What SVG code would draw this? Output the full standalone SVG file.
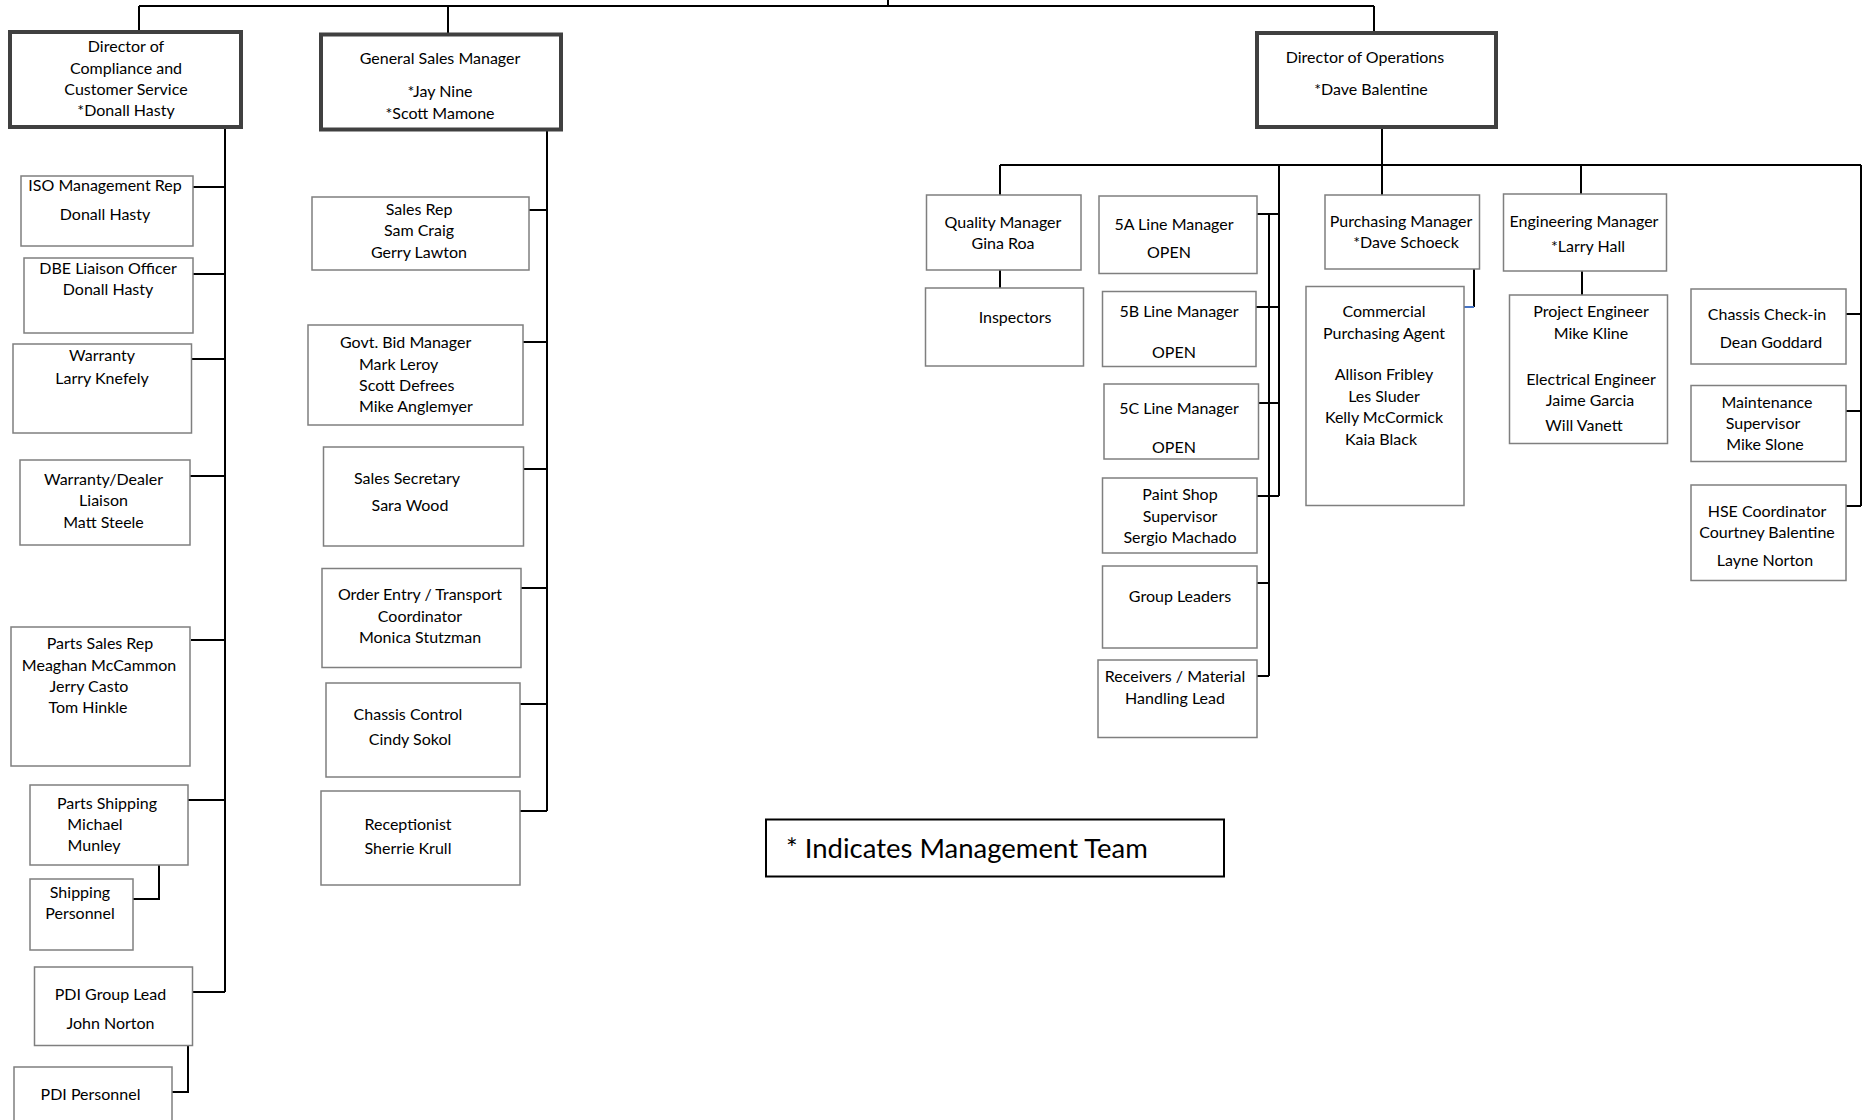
<svg xmlns="http://www.w3.org/2000/svg" width="1865" height="1120" viewBox="0 0 1865 1120">
<style>
.box{fill:#fff;stroke:#7f7f7f;stroke-width:1.5}
.head{fill:#fff;stroke:#404040;stroke-width:4}
.legend{fill:#fff;stroke:#000;stroke-width:2}
text{font-family:Lato,"Liberation Sans",sans-serif;font-size:16px;fill:#000;text-anchor:middle}
.s{text-anchor:start}
.big{font-size:27.5px;text-anchor:start}
.c{stroke:#000;stroke-width:2;fill:none}
.cb{stroke:#4472c4;stroke-width:2;fill:none}
</style>
<rect width="1865" height="1120" fill="#fff"/>
<g id="connectors">
<path class="c" d="M888 0V6M139 6H1374M139 6V32M448 6V34M1374 6V33"/>
<path class="c" d="M225 127V992M193 187H225M193 274H225M191 359H225M190 476H225M191 640H225M188 800H225M193 992H225"/>
<path class="c" d="M159 865V899H133M188 1046V1092H172"/>
<path class="c" d="M547 130V811M529 210H547M523 342H547M523 469H547M521 588H547M520 704H547M520 811H547"/>
<path class="c" d="M1382 127V195M1000 165H1861M1000 165V195M1000 270V288M1581 165V194M1582 271V295M1861 165V506M1846 314H1861M1846 411H1861M1846 506H1861"/>
<path class="c" d="M1279 165V496M1269 214V676M1257 214H1279M1256 307H1279M1258 403H1279M1257 496H1279M1257 583H1269M1257 676H1269"/>
<path class="c" d="M1474 269V307"/>
<path class="cb" d="M1474 307H1464"/>
</g>
<g id="dir-compliance"><rect class="head" x="10" y="32" width="231" height="95"/>
<text x="126" y="52">Director of</text><text x="126" y="73.5">Compliance and</text><text x="126" y="95">Customer Service</text><text x="126" y="116">*Donall Hasty</text></g>
<g id="iso"><rect class="box" x="21" y="176" width="172" height="70"/><text x="105" y="191">ISO Management Rep</text><text x="105" y="219.5">Donall Hasty</text></g>
<g id="dbe"><rect class="box" x="24" y="258" width="169" height="75"/><text x="108" y="274">DBE Liaison Officer</text><text x="108" y="294.5">Donall Hasty</text></g>
<g id="warranty"><rect class="box" x="13" y="344" width="178.5" height="89"/><text x="102" y="361">Warranty</text><text x="102" y="383.5">Larry Knefely</text></g>
<g id="warranty-dealer"><rect class="box" x="20" y="460" width="170" height="85"/><text x="103.5" y="485">Warranty/Dealer</text><text x="103.5" y="506">Liaison</text><text x="103.5" y="527.5">Matt Steele</text></g>
<g id="parts-sales"><rect class="box" x="11" y="627" width="179" height="139"/><text x="100" y="649">Parts Sales Rep</text><text x="99" y="670.5">Meaghan McCammon</text><text x="89" y="692">Jerry Casto</text><text x="88" y="713">Tom Hinkle</text></g>
<g id="parts-shipping"><rect class="box" x="30" y="785" width="158" height="80"/><text x="107" y="808.5">Parts Shipping</text><text x="95" y="830">Michael</text><text x="94" y="851">Munley</text></g>
<g id="shipping-personnel"><rect class="box" x="30" y="879" width="103" height="71"/><text x="80" y="897.5">Shipping</text><text x="80" y="919">Personnel</text></g>
<g id="pdi-lead"><rect class="box" x="34.5" y="967" width="158" height="78.5"/><text x="110.5" y="1000">PDI Group Lead</text><text x="110.5" y="1028.5">John Norton</text></g>
<g id="pdi-personnel"><rect class="box" x="14" y="1067" width="158" height="70"/><text x="90.5" y="1100">PDI Personnel</text></g>
<g id="gsm"><rect class="head" x="321" y="34.5" width="240" height="95"/><text x="440" y="64">General Sales Manager</text><text x="440" y="97">*Jay Nine</text><text x="440" y="118.5">*Scott Mamone</text></g>
<g id="sales-rep"><rect class="box" x="312" y="197" width="217" height="73"/><text x="419" y="215">Sales Rep</text><text x="419" y="236">Sam Craig</text><text x="419" y="257.5">Gerry Lawton</text></g>
<g id="govt-bid"><rect class="box" x="308" y="325" width="215" height="100"/><text class="s" x="340" y="348">Govt. Bid Manager</text><text class="s" x="359" y="369.5">Mark Leroy</text><text class="s" x="359" y="391">Scott Defrees</text><text class="s" x="359" y="412">Mike Anglemyer</text></g>
<g id="sales-secretary"><rect class="box" x="323.5" y="447" width="200" height="99"/><text x="407" y="483.5">Sales Secretary</text><text x="410" y="511">Sara Wood</text></g>
<g id="order-entry"><rect class="box" x="322" y="568.5" width="199" height="99"/><text x="420" y="600">Order Entry / Transport</text><text x="420" y="621.5">Coordinator</text><text x="420" y="643">Monica Stutzman</text></g>
<g id="chassis-control"><rect class="box" x="326" y="683" width="194" height="94"/><text x="408" y="720">Chassis Control</text><text x="410" y="745">Cindy Sokol</text></g>
<g id="receptionist"><rect class="box" x="321" y="791" width="199" height="94"/><text x="408" y="829.5">Receptionist</text><text x="408" y="853.5">Sherrie Krull</text></g>
<g id="dir-operations"><rect class="head" x="1257" y="33" width="239" height="94"/><text x="1365" y="62.5">Director of Operations</text><text x="1371" y="94.5">*Dave Balentine</text></g>
<g id="quality"><rect class="box" x="926.5" y="195" width="154.5" height="75"/><text x="1003" y="228">Quality Manager</text><text x="1003" y="249">Gina Roa</text></g>
<g id="inspectors"><rect class="box" x="925.5" y="288" width="158" height="78"/><text x="1015" y="323">Inspectors</text></g>
<g id="line-5a"><rect class="box" x="1099" y="196" width="158" height="77.5"/><text x="1174" y="230">5A Line Manager</text><text x="1169" y="257.5">OPEN</text></g>
<g id="line-5b"><rect class="box" x="1102.5" y="291.5" width="153.5" height="75"/><text x="1179" y="317">5B Line Manager</text><text x="1174" y="357.5">OPEN</text></g>
<g id="line-5c"><rect class="box" x="1104" y="384" width="154.5" height="75"/><text x="1179" y="413.5">5C Line Manager</text><text x="1174" y="452.5">OPEN</text></g>
<g id="paint-shop"><rect class="box" x="1102.5" y="478" width="154.5" height="75"/><text x="1180" y="500">Paint Shop</text><text x="1180" y="521.5">Supervisor</text><text x="1180" y="543">Sergio Machado</text></g>
<g id="group-leaders"><rect class="box" x="1102.5" y="566" width="154.5" height="82"/><text x="1180" y="601.5">Group Leaders</text></g>
<g id="receivers"><rect class="box" x="1098" y="660" width="159" height="77.5"/><text x="1175" y="682">Receivers / Material</text><text x="1175" y="703.5">Handling Lead</text></g>
<g id="purchasing"><rect class="box" x="1325" y="195" width="154.5" height="74"/><text x="1401" y="226.5">Purchasing Manager</text><text x="1406" y="248">*Dave Schoeck</text></g>
<g id="purchasing-agent"><rect class="box" x="1306" y="286.5" width="158" height="219"/><text x="1384" y="317">Commercial</text><text x="1384" y="338.5">Purchasing Agent</text><text x="1384" y="380">Allison Fribley</text><text x="1384" y="401.5">Les Sluder</text><text x="1384" y="423">Kelly McCormick</text><text x="1381" y="444.5">Kaia Black</text></g>
<g id="engineering"><rect class="box" x="1503.5" y="194" width="163" height="77"/><text x="1584" y="226.5">Engineering Manager</text><text x="1588" y="251.5">*Larry Hall</text></g>
<g id="engineers"><rect class="box" x="1509.5" y="295" width="158" height="148.5"/><text x="1591" y="317">Project Engineer</text><text x="1591" y="338.5">Mike Kline</text><text x="1591" y="385">Electrical Engineer</text><text x="1590" y="406">Jaime Garcia</text><text x="1584" y="431">Will Vanett</text></g>
<g id="chassis-checkin"><rect class="box" x="1691" y="289" width="155" height="75"/><text x="1767" y="319.5">Chassis Check-in</text><text x="1771" y="348">Dean Goddard</text></g>
<g id="maintenance"><rect class="box" x="1691" y="385.5" width="155" height="76"/><text x="1767" y="407.5">Maintenance</text><text x="1763" y="429">Supervisor</text><text x="1765" y="450">Mike Slone</text></g>
<g id="hse"><rect class="box" x="1691" y="485" width="155" height="95.5"/><text x="1767" y="517">HSE Coordinator</text><text x="1767" y="538">Courtney Balentine</text><text x="1765" y="565.5">Layne Norton</text></g>
<g id="legend"><rect class="legend" x="766" y="819.5" width="458" height="57"/><text class="big" x="786" y="858">* Indicates Management Team</text></g>
</svg>
